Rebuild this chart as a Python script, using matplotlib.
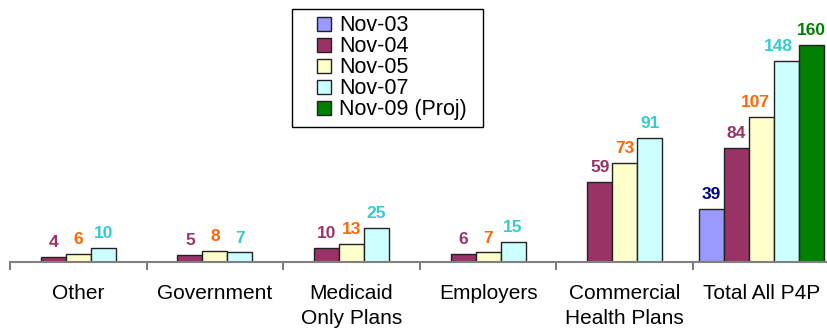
import numpy as np
import matplotlib
matplotlib.use("Agg")
import matplotlib.pyplot as plt
from matplotlib.lines import Line2D
from matplotlib.patches import Rectangle

plt.rcParams['font.family'] = ['Liberation Sans', 'DejaVu Sans']

categories = ["Other", "Government", "Medicaid\nOnly Plans", "Employers",
              "Commercial\nHealth Plans", "Total All P4P"]
series = ["Nov-03", "Nov-04", "Nov-05", "Nov-07", "Nov-09 (Proj)"]
nan = np.nan
nov03 = [nan, nan, nan, nan, nan, 39]
nov04 = [4, 5, 10, 6, 59, 84]
nov05 = [6, 8, 13, 7, 73, 107]
nov07 = [10, 7, 25, 15, 91, 148]
nov09 = [nan, nan, nan, nan, nan, 160]
values = [nov03, nov04, nov05, nov07, nov09]

bar_colors = ["#9999FF", "#993366", "#FFFFCC", "#CCFFFF", "#008000"]
label_colors = ["#000080", "#993366", "#FF6600", "#33CCCC", "#008000"]
# labels nudged left in the last group (pixels)
nudge = {(5, 2): -6, (5, 3): -8}

W, H = 828, 335
fig = plt.figure(figsize=(W / 100, H / 100), dpi=100)
ax = fig.add_axes([10 / W, 73 / H, 819.6 / W, 244.4 / H])

x = np.arange(len(categories))
w = 0.183
for j, vals in enumerate(values):
    pos = x + (j - 2) * w
    ax.bar(pos, vals, width=w, color=bar_colors[j], edgecolor="#222222",
           linewidth=1.0, label=series[j])
    for i, v in enumerate(vals):
        if np.isnan(v):
            continue
        dx = nudge.get((i, j), 0) * 0.72
        ax.annotate(str(int(v)), (pos[i], v), xytext=(dx, 5),
                    textcoords="offset points", ha="center", va="bottom",
                    fontsize=12.5, fontweight="bold", color=label_colors[j])

ax.set_xlim(-0.5, len(categories) - 0.5)
ax.set_ylim(0, 180)
for s in ["top", "right", "left"]:
    ax.spines[s].set_visible(False)
ax.spines["bottom"].set_color("#808080")
ax.spines["bottom"].set_linewidth(1.5)
ax.set_yticks([])
ax.set_xticks(x)
ax.set_xticklabels(categories, fontsize=15, linespacing=1.4)
ax.tick_params(axis="x", which="major", length=0, pad=16)
ax.set_xticks(np.arange(-0.5, len(categories)), minor=True)
ax.tick_params(axis="x", which="minor", length=6, width=1.2, color="#606060",
               direction="out")

handles = [Line2D([], [], linestyle="none", marker="s", markersize=9.5,
                  markerfacecolor=c, markeredgecolor="#222222",
                  markeredgewidth=1) for c in bar_colors]
leg = fig.legend(handles, series, loc="upper left",
                 bbox_to_anchor=(292 / W, 1 - 9 / H), fontsize=15.5,
                 frameon=False, borderpad=0.3,
                 labelspacing=0.0, handlelength=2.4, handletextpad=-0.5,
                 borderaxespad=0)
# legend box drawn by hand so the right padding matches
fig.patches.append(Rectangle((292 / W, 1 - 127 / H), 191 / W, 118 / H,
                             transform=fig.transFigure, fill=False,
                             edgecolor="black", linewidth=1.0))

fig.savefig("out.png", dpi=100)
